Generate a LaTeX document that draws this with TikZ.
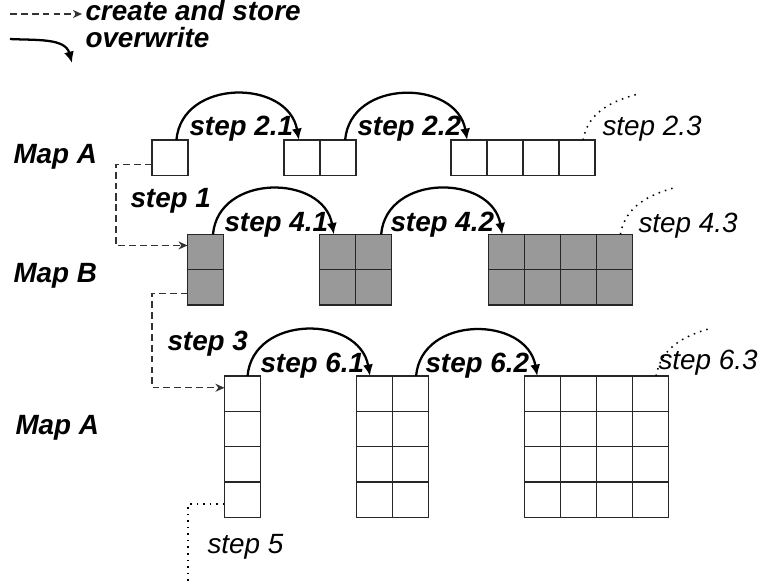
\documentclass[tikz,border=0pt]{standalone}
\usepackage{fontspec}
\setmainfont{Liberation Sans}
\usetikzlibrary{arrows.meta}

\begin{document}
\begin{tikzpicture}[x=0.01389cm,y=-0.01389cm,
  cellA/.style={draw=black!85,line width=0.5pt,minimum width=0.5cm,minimum height=0.49cm,inner sep=0pt,outer sep=0pt},
  cellB/.style={cellA,fill=black!40},
  boldlbl/.style={font=\fontsize{11}{13}\selectfont\bfseries\itshape,inner sep=0pt,anchor=base west},
  lightlbl/.style={font=\fontsize{11}{13}\selectfont\itshape,inner sep=0pt,anchor=base west},
  ovw/.style={line width=0.9pt,-{Latex[length=4.5pt,width=4pt]}},
  crt/.style={black!80,line width=0.5pt,dash pattern=on 2.7pt off 1.6pt,-{Stealth[length=3.6pt,width=3.2pt]}},
  further/.style={dotted,line width=0.6pt}]
\useasboundingbox (0,0) rectangle (760,584);

% legend
\coordinate (l1s) at (10,14); \coordinate (l1e) at (82,14);
\coordinate (l2s) at (10,39); \coordinate (l2e) at (72,63);
\draw [crt] (l1s) -- (l1e);
\draw [ovw] (l2s) to[out=-3,in=105] (l2e);
\node[boldlbl] (lcs) at (85,20) {create and store};
\node[boldlbl] (low) at (85,47) {overwrite};

% map labels
\node[boldlbl] (mA1) at (13,163) {Map A};
\node[boldlbl] (mB) at (13,282) {Map B};
\node[boldlbl] (mA2) at (15,434) {Map A};

% map A, first row
\node[cellA] (a1-0-0) at (170,157.6) {};
\foreach \i in {0,1} \node[cellA] (a2-\i-0) at ({302+36*\i},157.6) {};
\foreach \i in {0,...,3} \node[cellA] (a3-\i-0) at ({469+36*\i},157.6) {};

% map B
\foreach \j in {0,1} \node[cellB] (b1-0-\j) at (205.5,{252+35.3*\j}) {};
\foreach \i in {0,1} \foreach \j in {0,1}
  \node[cellB] (b2-\i-\j) at ({337.3+36*\i},{252+35.3*\j}) {};
\foreach \i in {0,...,3} \foreach \j in {0,1}
  \node[cellB] (b3-\i-\j) at ({506.3+36*\i},{252+35.3*\j}) {};

% map A, third row
\foreach \j in {0,...,3} \node[cellA] (c1-0-\j) at (242.5,{393.6+35.3*\j}) {};
\foreach \i in {0,1} \foreach \j in {0,...,3}
  \node[cellA] (c2-\i-\j) at ({374.7+36*\i},{393.6+35.3*\j}) {};
\foreach \i in {0,...,3} \foreach \j in {0,...,3}
  \node[cellA] (c3-\i-\j) at ({542.3+36*\i},{393.6+35.3*\j}) {};

% overwrite steps
\draw [ovw] (a1-0-0.70) to[out=85,in=100,looseness=1.3] (a2-0-0.100);
\draw [ovw] (a2-1-0.68) to[out=85,in=100,looseness=1.3] (a3-0-0.96);
\draw [ovw] (b1-0-0.67) to[out=85,in=100,looseness=1.3] (b2-0-0.101);
\draw [ovw] (b2-1-0.66) to[out=85,in=100,looseness=1.3] (b3-0-0.103);
\draw [ovw] (c1-0-0.74) to[out=85,in=100,looseness=1.3] (c2-0-0.105);
\draw [ovw] (c2-1-0.73) to[out=85,in=100,looseness=1.3] (c3-0-0.106);

% further steps
\coordinate (e23) at (638,94);
\coordinate (e43) at (677,187);
\coordinate (e63) at (712,328);
\draw [further] (a3-3-0.71) to[out=80,in=195] (e23);
\draw [further] (b3-3-0.71) to[out=80,in=195] (e43);
\draw [further] (c3-3-0.72) to[out=80,in=195] (e63);

% create and store steps
\coordinate (k1) at (116,200);
\coordinate (k3) at (152,340);
\coordinate (k5) at (188,584);
\draw [crt] (a1-0-0.200) -| (k1) |- (b1-0-0.160);
\draw [crt] (b1-0-1.198) -| (k3) |- (c1-0-0.162);
\draw [further] (c1-0-3.194) -| (k5);

% step labels
\node[boldlbl] (t21) at (189,135) {step 2.1};
\node[boldlbl] (t22) at (357,135) {step 2.2};
\node[lightlbl] (t23) at (602,135) {step 2.3};
\node[boldlbl] (t1) at (130,207) {step 1};
\node[boldlbl] (t41) at (224,231) {step 4.1};
\node[boldlbl] (t42) at (390,231) {step 4.2};
\node[lightlbl] (t43) at (638,232) {step 4.3};
\node[boldlbl] (t3) at (167,350) {step 3};
\node[boldlbl] (t61) at (260,372) {step 6.1};
\node[boldlbl] (t62) at (425,372) {step 6.2};
\node[lightlbl] (t63) at (658,369) {step 6.3};
\node[lightlbl] (t5) at (207,553) {step 5};

\end{tikzpicture}
\end{document}
